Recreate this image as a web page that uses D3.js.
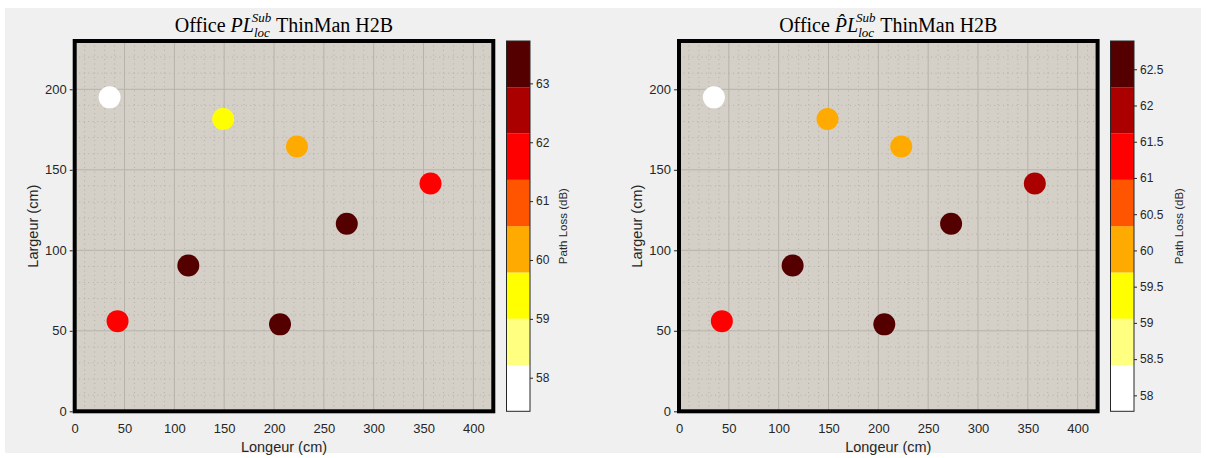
<!DOCTYPE html>
<html><head><meta charset="utf-8">
<script src="https://cdn.jsdelivr.net/npm/d3@7"></script>
<style>
html,body{margin:0;padding:0;background:#fff;}
svg{display:block;}
</style></head>
<body>
<script>
// ---- data ----
const xPos = [35, 149, 223, 357, 273, 114, 43, 206];
const yPos = [195, 181.5, 164.5, 141.5, 116.5, 90.5, 56, 54];
const plValues = [57.43, 59.4, 60.2, 61.8, 63.2, 63.72, 61.7, 63.5];
const plHatValues = [57.78, 60.0, 60.1, 61.9, 62.5, 62.89, 61.3, 62.6];
const hotColors = ["#FFFFFF","#FFFF80","#FFFF00","#FFAA00","#FF5500","#FF0000","#AA0000","#550000"];
const xTicks = [0,50,100,150,200,250,300,350,400];
const yTicks = [0,50,100,150,200];
const cbTicksL = [58,59,60,61,62,63];
const cbTicksR = [58,58.5,59,59.5,60,60.5,61,61.5,62,62.5];

const W = 1206, H = 458;
const svg = d3.select("body").append("svg").attr("width", W).attr("height", H);
svg.append("rect").attr("x",5).attr("y",8).attr("width",1196).attr("height",445).attr("fill","#F0F0F0");

function panel(opts){
  const {x0, x1, cbx, values, ticks, hat} = opts;
  const yTop = 41, yBot = 411.3;
  const x = d3.scaleLinear().domain([0,420]).range([x0,x1]);
  const y = d3.scaleLinear().domain([0,230]).range([yBot,yTop]);
  const g = svg.append("g");
  g.append("rect").attr("x",x0).attr("y",yTop).attr("width",x1-x0).attr("height",yBot-yTop).attr("fill","#D4D0C8");
  // minor grid
  const minorX = d3.range(10,420,10).filter(v=>v%50!==0);
  const minorY = d3.range(10,230,10).filter(v=>v%50!==0);
  g.selectAll(".mx").data(minorX).join("line")
    .attr("x1",d=>x(d)).attr("x2",d=>x(d)).attr("y1",yTop).attr("y2",yBot)
    .attr("stroke","#ACA8A0").attr("stroke-width",0.8).attr("stroke-dasharray","1,3.5");
  g.selectAll(".my").data(minorY).join("line")
    .attr("y1",d=>y(d)).attr("y2",d=>y(d)).attr("x1",x0).attr("x2",x1)
    .attr("stroke","#ACA8A0").attr("stroke-width",0.8).attr("stroke-dasharray","1,3.5");
  // major grid
  g.selectAll(".Mx").data(d3.range(50,420,50)).join("line")
    .attr("x1",d=>x(d)).attr("x2",d=>x(d)).attr("y1",yTop).attr("y2",yBot)
    .attr("stroke","#B6B2AA").attr("stroke-width",1);
  g.selectAll(".My").data(d3.range(50,230,50)).join("line")
    .attr("y1",d=>y(d)).attr("y2",d=>y(d)).attr("x1",x0).attr("x2",x1)
    .attr("stroke","#B6B2AA").attr("stroke-width",1);

  // axes
  const xa = g.append("g").attr("transform",`translate(0,${yBot+2})`)
    .call(d3.axisBottom(x).tickValues(xTicks).tickSize(0).tickPadding(10));
  const ya = g.append("g").attr("transform",`translate(${x0-2},0)`)
    .call(d3.axisLeft(y).tickValues(yTicks).tickSize(3).tickPadding(3));
  [xa,ya].forEach(a=>{
    a.select(".domain").remove();
    a.selectAll("text").attr("font-family","Liberation Sans, Arial, sans-serif").attr("font-size",13).attr("fill","#262626");
    a.selectAll("line").attr("stroke","#262626");
  });

  // color scale
  const ext = d3.extent(values);
  const color = d3.scaleQuantize().domain(ext).range(hotColors);

  // points
  g.selectAll(".pt").data(values).join("circle")
    .attr("cx",(d,i)=>x(xPos[i])).attr("cy",(d,i)=>y(yPos[i])).attr("r",11)
    .attr("fill",d=>color(d));

  // border
  g.append("rect").attr("x",x0).attr("y",yTop).attr("width",x1-x0).attr("height",yBot-yTop)
    .attr("fill","none").attr("stroke","#000").attr("stroke-width",4);

  // labels
  g.append("text").attr("x",(x0+x1)/2).attr("y",452).attr("text-anchor","middle")
    .attr("font-family","Liberation Sans, Arial, sans-serif").attr("font-size",14.5).attr("fill","#262626")
    .text("Longeur (cm)");
  g.append("text").attr("transform",`translate(${x0-37},${(yTop+yBot)/2}) rotate(-90)`).attr("text-anchor","middle")
    .attr("font-family","Liberation Sans, Arial, sans-serif").attr("font-size",14.5).attr("fill","#262626")
    .text("Largeur (cm)");

  // title
  const t = g.append("text").attr("x",(x0+x1)/2).attr("y",32).attr("text-anchor","middle")
    .attr("font-family","Liberation Serif, Times New Roman, serif").attr("font-size",20).attr("fill","#000");
  t.append("tspan").text("Office ");
  t.append("tspan").attr("font-style","italic").text(hat ? "P\u0302L" : "PL");
  t.append("tspan").attr("font-style","italic").attr("font-size",13).attr("dy",5).text("loc");
  t.append("tspan").attr("font-style","italic").attr("font-size",13).attr("dx",-18).attr("dy",-15).text("Sub");
  t.append("tspan").attr("dy",10).text(" ThinMan H2B");

  // colorbar
  const cbW = 23.5;
  const cy = d3.scaleLinear().domain(ext).range([yBot,yTop]);
  const step = (ext[1]-ext[0])/hotColors.length;
  g.selectAll(".cb").data(hotColors).join("rect")
    .attr("x",cbx).attr("width",cbW)
    .attr("y",(d,i)=>cy(ext[0]+step*(i+1))).attr("height",(d,i)=>cy(ext[0]+step*i)-cy(ext[0]+step*(i+1)))
    .attr("fill",d=>d);
  g.append("rect").attr("x",cbx).attr("y",yTop).attr("width",cbW).attr("height",yBot-yTop)
    .attr("fill","none").attr("stroke","#262626").attr("stroke-width",1);
  const ca = g.append("g").attr("transform",`translate(${cbx+cbW},0)`)
    .call(d3.axisRight(cy).tickValues(ticks).tickSize(3).tickPadding(3).tickFormat(d3.format("~g")));
  ca.select(".domain").remove();
  ca.selectAll("text").attr("font-family","Liberation Sans, Arial, sans-serif").attr("font-size",12).attr("fill","#262626");
  ca.selectAll("line").attr("stroke","#262626");
  const lblX = cbx + cbW + (ticks.length>6 ? 49 : 37);
  g.append("text").attr("transform",`translate(${lblX},${(yTop+yBot)/2}) rotate(-90)`).attr("text-anchor","middle")
    .attr("font-family","Liberation Sans, Arial, sans-serif").attr("font-size",11.5).attr("fill","#262626")
    .text("Path Loss (dB)");
}

panel({x0:74.7, x1:493.3, cbx:506.5, values:plValues, ticks:cbTicksL, hat:false});
panel({x0:679, x1:1097.6, cbx:1110.5, values:plHatValues, ticks:cbTicksR, hat:true});
</script>
</body></html>
